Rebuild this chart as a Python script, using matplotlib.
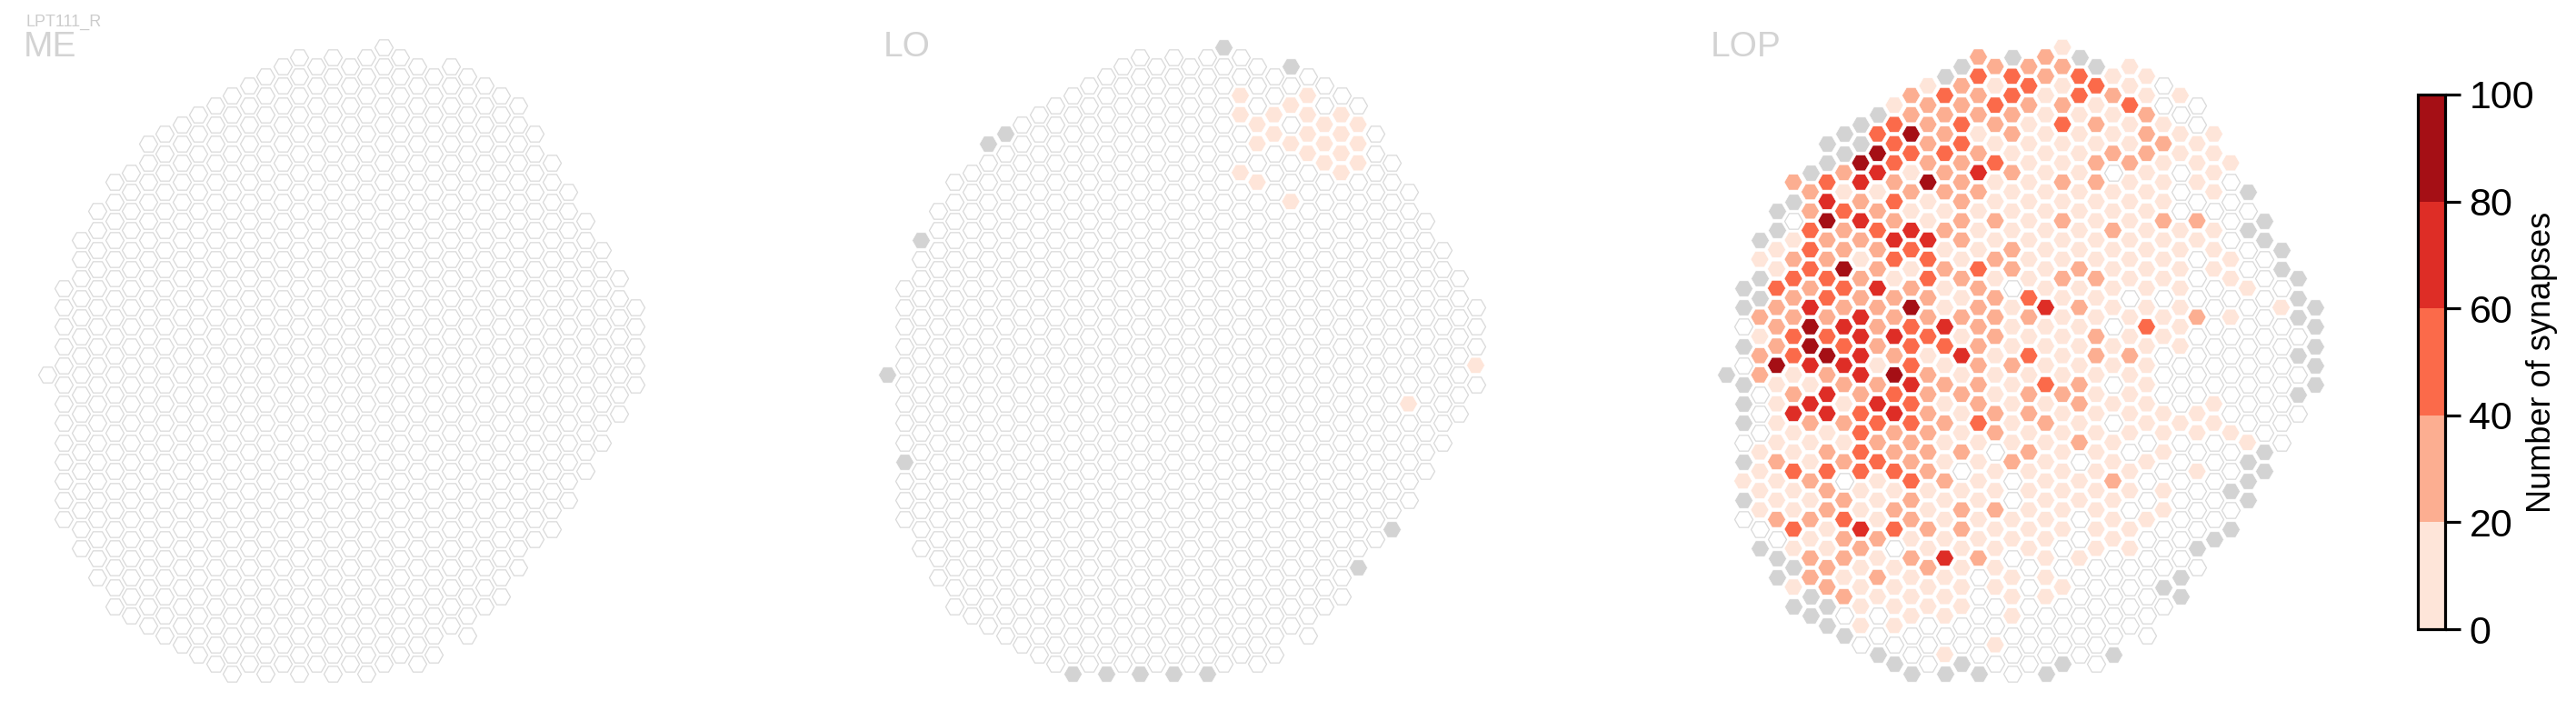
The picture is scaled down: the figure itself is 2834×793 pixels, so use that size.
import numpy as np
import matplotlib
matplotlib.use("Agg")
import matplotlib.pyplot as plt
from matplotlib.colors import ListedColormap, BoundaryNorm
import matplotlib.colorbar as mcolorbar

plt.rcParams['font.family'] = ['Liberation Sans', 'DejaVu Sans']

W, H = 2834, 793

# hex grid: flat-top hexagons, column c = 0..35, half-row index k (top to bottom)
col_top = [34, 25, 20, 17, 14, 13, 10, 9, 8, 7, 6, 5, 4, 3, 2, 1, 2, 1,
           2, 1, 0, 1, 2, 3, 2, 3, 4, 5, 6, 9, 12, 15, 18, 21, 24, 27]
col_bot = [34, 49, 52, 55, 58, 59, 60, 61, 62, 63, 64, 65, 64, 65, 64, 65, 64, 65,
           64, 65, 64, 63, 64, 63, 60, 61, 58, 57, 54, 51, 50, 47, 44, 41, 38, 35]

# LOP, one string per column, top to bottom
# g = column not in ROI, w = no synapses, 1..5 = colorbar bin (0-20 ... 80-100)
lop_cols = [
    "g",
    "ggwgwgggwg1gw",
    "g1gg2122www1111wg",
    "gg113222511112112wgg",
    "2gw12322331241131131g1g",
    "g223332455414211212122gg",
    "gg3452233235244123221122gg",
    "gg2132253243421212w232212wg",
    "gg5424212244442333311421111w",
    "g3541232242221243231112121wwg",
    "13332324312242534223123w1111wg",
    "2253121431253334332232212111wwg",
    "1222251143322312222221121211www",
    "g3223221212114312121121114111w1g",
    "g22332222212121412112w1221111wwg",
    "232212421113222222231111112wwwwwg",
    "21321311212122211122w1121111ww1w",
    "g33221211122w111211112ww11w111www",
    "23211111111132131221211111wwwwww",
    "22111111111114111312111111111wwwg",
    "12123112121121111121111111ww1wwwg",
    "g33111111112121112212w11ww1wwwww",
    "g3121221111211221111111111wwwwww",
    "12112w1121111w11w1w112111wwwwwg",
    "113112111111w1121111w11w11wwww",
    "1122211111111311111w1ww1wwwwww",
    "ww121112111w11www111w11wwwgw",
    "1w11www1111111www1wwwwwwwgg",
    "ww111w21www2wwww11w1wwwgw",
    "1111w111wwwwww11wwwwwg",
    "1wwww11w1wwwww1wwgwg",
    "gwgww1wwwwwww1ggg",
    "ggwwwwwwwwwwgg",
    "ggw1wwwwwww",
    "gggwgwgw",
    "ggggg",
]

# LO: sparse, every other column is empty
lo_gray = [(0, 34), (1, 43), (2, 20), (6, 10), (7, 9), (20, 0), (24, 2),
           (11, 65), (13, 65), (15, 65), (17, 65), (19, 65), (28, 54), (30, 50)]
lo_low = [(21, 5), (21, 7), (21, 13), (22, 8), (22, 10), (22, 14), (23, 7), (23, 9),
          (24, 6), (24, 10), (24, 16), (25, 5), (25, 7), (25, 9), (25, 11),
          (26, 8), (26, 10), (26, 12), (27, 7), (27, 9), (27, 11), (27, 13),
          (28, 8), (28, 10), (28, 12), (31, 37), (35, 33)]

# ME: every column empty
me_gray = []
me_low = []

bin_edges = [0, 20, 40, 60, 80, 100]
bin_mid = [10, 30, 50, 70, 90]
reds = ['#fee5d9', '#fcae91', '#fb6a4a', '#de2d26', '#a50f15']
panel_names = ['ME', 'LO', 'LOP']

cmap = ListedColormap(reds)
norm = BoundaryNorm(bin_edges, cmap.N)


def grid_cells():
    cells = []
    for c, (k0, k1) in enumerate(zip(col_top, col_bot)):
        for k in range(k0, k1 + 1, 2):
            cells.append((c, k))
    return cells


def sparse_values(gray, low):
    vals = {ck: 0.0 for ck in grid_cells()}
    for ck in gray:
        vals[ck] = np.nan
    for ck in low:
        vals[ck] = bin_mid[0]
    return vals


def dense_values(cols):
    vals = {}
    for c, s in enumerate(cols):
        for i, ch in enumerate(s):
            k = col_top[c] + 2 * i
            if ch == 'g':
                vals[(c, k)] = np.nan
            elif ch == 'w':
                vals[(c, k)] = 0.0
            else:
                vals[(c, k)] = bin_mid[int(ch) - 1]
    return vals


panels = [sparse_values(me_gray, me_low),
          sparse_values(lo_gray, lo_low),
          dense_values(lop_cols)]

fig = plt.figure(figsize=(W / 100, H / 100), dpi=100)

# pixel layout of each panel: x of column 0, spacing of columns / half rows
x0s = [51.7, 976, 1899]
dx, dk, y0 = 18.5, 10.6, 52
S = (20 * 0.72) ** 2

for x0, vals in zip(x0s, panels):
    left = x0 - 1.5 * dx
    top = y0 - 4 * dk
    ax = fig.add_axes([left / W, 1 - (top + 74 * dk) / H, 38 * dx / W, 74 * dk / H])
    ax.set_xlim(-1.5, 36.5)
    ax.set_ylim(70, -4)
    ax.axis('off')
    keys = list(vals.keys())
    c = np.array([ck[0] for ck in keys], float)
    k = np.array([ck[1] for ck in keys], float)
    v = np.array([vals[ck] for ck in keys], float)
    gray = np.isnan(v)
    zero = ~gray & (v == 0)
    col = ~gray & (v > 0)
    ax.scatter(c[zero], k[zero], s=S, marker='H', facecolor='white',
               edgecolor='#d9d9d9', linewidths=0.9)
    ax.scatter(c[gray], k[gray], s=S, marker='H', facecolor='#d3d3d3',
               edgecolor='white', linewidths=0.4)
    ax.scatter(c[col], k[col], s=S, marker='H', c=v[col], cmap=cmap, norm=norm,
               edgecolor='white', linewidths=0.4)

# panel titles
label_x = [26, 972, 1882]
for name, lx in zip(panel_names, label_x):
    fig.text(lx / W, 1 - 62 / H, name, fontsize=28, color='#d3d3d3', va='baseline')
fig.text(29 / W, 1 - 29 / H, 'LPT111_R', fontsize=13, color='#cccccc', va='baseline')

# colorbar
cb_top, cb_bot = 104, 692
cax = fig.add_axes([2660 / W, 1 - cb_bot / H, 30 / W, (cb_bot - cb_top) / H])
cb = mcolorbar.ColorbarBase(cax, cmap=cmap, norm=norm, ticks=bin_edges,
                            orientation='vertical')
cb.outline.set_linewidth(2.3)
cax.tick_params(length=12, width=2.3, labelsize=31, pad=7)
# title sits next to the two-digit labels, centred on the bar
fig.text(2797 / W, 1 - (cb_top + cb_bot) / 2 / H, 'Number of synapses',
         fontsize=26, rotation=90, ha='center', va='center')

fig.savefig('out.png', dpi=100)
